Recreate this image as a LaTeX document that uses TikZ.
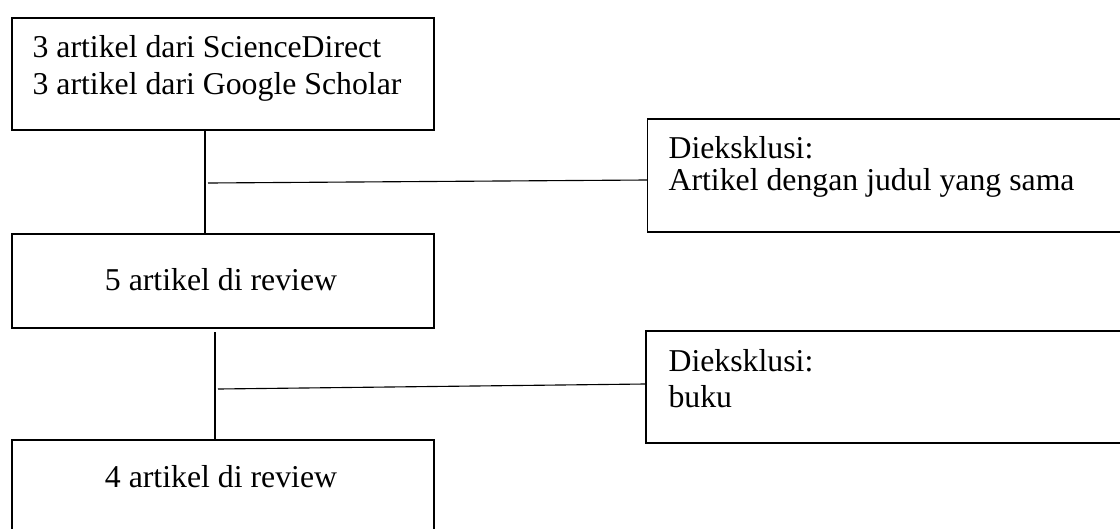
\documentclass[tikz,border=0pt]{standalone}
\usepackage{fontspec}
\setmainfont{Liberation Serif}
\usetikzlibrary{positioning}

\tikzset{
  box/.style={draw,line width=0.8pt,inner sep=0pt},
  txt/.style={font=\fontsize{22.6}{26}\selectfont,inner sep=0pt}
}

\begin{document}
\begin{tikzpicture}[x=0.025cm,y=-0.025cm,line width=0.8pt]
   \useasboundingbox (0,0) rectangle (1120,528);

   % boxes
   \node[box,minimum width=10.55cm,minimum height=2.8cm] (src) at (223,74) {};
   \node[box,minimum width=10.55cm,minimum height=2.35cm] (rev5) at (223,281) {};
   \node[box,minimum width=10.55cm,minimum height=2.25cm] (rev4) at (223,485) {};
   \node[box,minimum width=11.9cm,minimum height=2.825cm] (excl1) at (885.5,175.5) {};
   \node[box,minimum width=11.9cm,minimum height=2.8cm] (excl2) at (884,387) {};

   % texts
   \node[txt,anchor=base west] (src1) at (32,57) {3 artikel dari ScienceDirect};
   \node[txt,anchor=base west] (src2) at (32,94) {3 artikel dari Google Scholar};
   \node[txt,anchor=base] (rev5t) at (221,290) {5 artikel di review};
   \node[txt,anchor=base] (rev4t) at (221,487) {4 artikel di review};
   \node[txt,anchor=base west] (ex1a) at (668,158) {Dieksklusi:};
   \node[txt,anchor=base west] (ex1b) at (668,190) {Artikel dengan judul yang sama};
   \node[txt,anchor=base west] (ex2a) at (668,371) {Dieksklusi:};
   \node[txt,anchor=base west] (ex2b) at (668,407) {buku};

   % connectors
   \coordinate (j1) at (208,183);
   \coordinate (j2) at (218,389);
   \coordinate (t2) at (215,332);
   \draw (src.south -| 205,0) -- (rev5.north -| 205,0);
   \draw (j1) -- (excl1.west |- 0,180);
   \draw (t2) -- (rev4.north -| t2);
   \draw (j2) -- (excl2.west |- 0,384);
\end{tikzpicture}
\end{document}
